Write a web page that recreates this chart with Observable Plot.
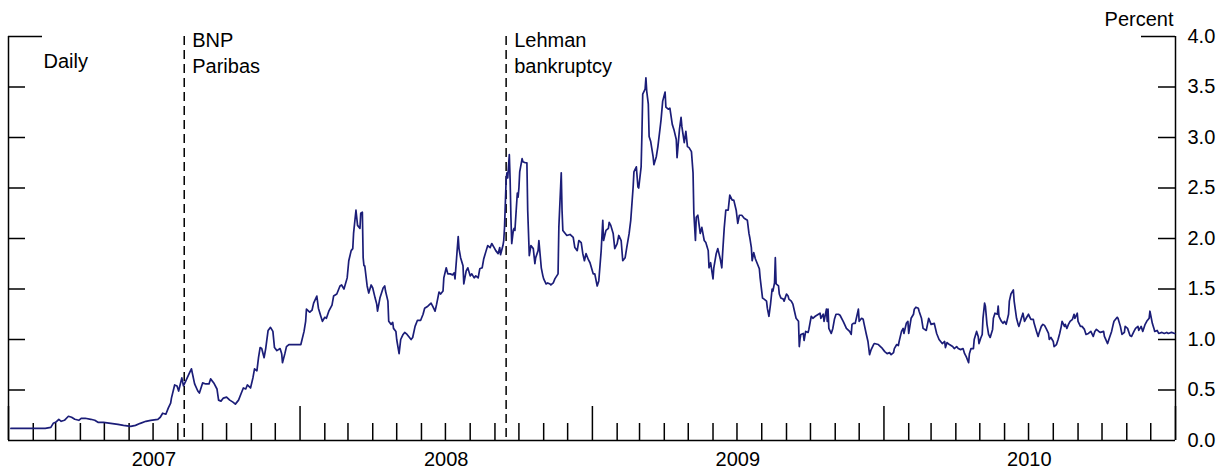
<!DOCTYPE html>
<html>
<head>
<meta charset="utf-8">
<script src="https://cdn.jsdelivr.net/npm/d3@7"></script>
<script src="https://cdn.jsdelivr.net/npm/@observablehq/plot@0.6"></script>
<style>
  body { margin: 0; background: #fff; }
</style>
</head>
<body>
<div id="chart"></div>
<script>
// Daily spread, percent. Each year's observations as [day of year, value].
const spread2007 = [
  [3,0.12],[15,0.12],[31,0.12],[46,0.12],[53,0.13],[56,0.17],[59,0.18],[63,0.21],[66,0.19],[70,0.20],
  [75,0.24],[79,0.23],[83,0.21],[88,0.20],[91,0.22],[96,0.22],[103,0.21],[108,0.20],[112,0.18],[119,0.18],
  [128,0.17],[137,0.16],[144,0.15],[153,0.14],[159,0.15],[165,0.17],[172,0.19],[178,0.20],[187,0.21],[190,0.23],
  [193,0.27],[197,0.26],[200,0.32],[203,0.37],[204,0.42],[208,0.55],[211,0.54],[213,0.49],[217,0.62],[219,0.54],
  [222,0.59],[226,0.66],[229,0.71],[233,0.56],[237,0.49],[239,0.47],[243,0.57],[247,0.56],[251,0.56],[253,0.61],
  [257,0.57],[261,0.51],[263,0.40],[266,0.39],[269,0.42],[273,0.43],[277,0.40],[281,0.38],[284,0.36],[288,0.40],
  [291,0.46],[294,0.52],[297,0.51],[299,0.55],[303,0.52],[306,0.62],[308,0.71],[311,0.69],[313,0.82],[315,0.92],
  [317,0.91],[320,0.82],[322,0.91],[325,1.09],[328,1.12],[331,1.08],[333,0.92],[336,0.89],[340,0.91],[342,0.86],
  [343,0.77],[346,0.86],[348,0.93],[351,0.95],[356,0.95],[361,0.95]
];
const spread2008 = [
  [1,0.95],[5,1.08],[7,1.18],[8,1.30],[12,1.27],[15,1.29],[17,1.36],[21,1.43],[23,1.31],[26,1.23],
  [28,1.18],[31,1.22],[33,1.21],[36,1.28],[40,1.34],[42,1.43],[46,1.45],[50,1.53],[52,1.54],[55,1.50],
  [59,1.61],[61,1.78],[64,1.88],[66,1.90],[67,2.05],[70,2.28],[72,2.13],[75,2.10],[76,2.25],[78,2.26],
  [79,1.81],[80,1.73],[81,1.73],[84,1.53],[86,1.46],[89,1.54],[91,1.51],[94,1.41],[96,1.35],[97,1.28],
  [100,1.41],[104,1.51],[106,1.53],[107,1.48],[110,1.38],[111,1.18],[114,1.15],[116,1.17],[117,1.11],[120,1.08],
  [121,1.00],[124,0.86],[126,1.00],[129,1.05],[131,1.07],[134,1.05],[136,1.03],[139,1.00],[141,1.02],[144,1.13],
  [147,1.19],[151,1.19],[154,1.25],[156,1.31],[160,1.33],[164,1.36],[166,1.33],[169,1.28],[171,1.35],[174,1.47],
  [176,1.45],[179,1.48],[180,1.61],[183,1.71],[185,1.65],[188,1.65],[191,1.64],[193,1.66],[194,1.60],[196,1.81],
  [198,2.02],[199,1.90],[201,1.81],[204,1.73],[205,1.55],[208,1.68],[210,1.71],[213,1.63],[215,1.65],[218,1.61],
  [220,1.63],[223,1.61],[225,1.70],[228,1.71],[230,1.80],[233,1.88],[235,1.93],[238,1.91],[240,1.95],[243,1.91],
  [245,1.88],[248,1.85],[250,1.91],[251,1.84],[254,1.93],[255,1.98],[256,2.11],[258,2.58],[259,2.65],[260,2.60],
  [262,2.83],[263,2.58],[264,2.21],[265,1.95],[267,2.08],[268,2.10],[269,2.08],[272,2.45],[273,2.41],[274,2.50],
  [275,2.66],[278,2.79],[279,2.76],[282,2.75],[284,2.75],[285,2.28],[287,1.83],[289,1.93],[292,1.90],[294,1.75],
  [295,1.81],[298,1.88],[299,1.98],[302,1.71],[304,1.63],[305,1.60],[308,1.55],[310,1.56],[313,1.55],[314,1.54],
  [317,1.56],[319,1.60],[323,1.65],[324,2.11],[327,2.65],[328,2.28],[329,2.08],[332,2.05],[334,2.03],[338,2.04],
  [342,2.01],[344,1.91],[347,1.88],[349,1.98],[352,1.96],[354,1.85],[356,1.78],[358,1.85],[361,1.79],[363,1.76]
];
const spread2009 = [
  [1,1.65],[3,1.65],[6,1.53],[8,1.58],[11,1.88],[13,2.18],[14,1.98],[17,2.08],[20,2.10],[21,2.16],
  [23,2.13],[26,2.05],[28,1.90],[31,1.95],[33,2.03],[36,1.98],[38,1.78],[41,1.81],[43,1.91],[46,2.05],
  [48,2.18],[51,2.51],[52,2.66],[55,2.71],[57,2.51],[58,2.50],[61,2.71],[62,3.03],[63,3.43],[66,3.48],
  [67,3.59],[68,3.46],[70,3.33],[71,3.01],[73,2.96],[76,2.81],[77,2.73],[80,2.81],[82,2.91],[85,3.11],
  [86,3.18],[88,3.36],[91,3.45],[92,3.30],[95,3.28],[97,3.29],[100,3.13],[102,3.08],[105,2.98],[106,2.80],
  [109,3.08],[111,3.20],[112,3.11],[115,2.95],[117,3.06],[119,2.91],[121,2.90],[124,2.86],[126,2.65],[127,2.25],
  [129,1.98],[130,2.21],[132,2.23],[135,2.05],[137,2.11],[140,1.98],[142,1.96],[145,1.88],[146,1.71],[148,1.76],
  [151,1.60],[152,1.71],[155,1.85],[157,1.90],[160,1.80],[162,1.71],[163,1.85],[165,2.10],[167,2.28],[170,2.28],
  [172,2.43],[175,2.38],[177,2.38],[180,2.28],[182,2.15],[184,2.23],[187,2.23],[190,2.20],[194,2.18],[196,2.05],
  [197,2.01],[199,1.91],[200,1.78],[202,1.86],[204,1.80],[206,1.76],[209,1.70],[210,1.61],[213,1.41],[215,1.40],
  [218,1.38],[219,1.31],[221,1.23],[223,1.35],[225,1.50],[226,1.48],[228,1.56],[229,1.81],[230,1.55],[233,1.53],
  [234,1.45],[236,1.41],[239,1.40],[240,1.38],[243,1.45],[245,1.43],[246,1.40],[249,1.38],[251,1.35],[253,1.28],
  [255,1.21],[258,1.18],[259,0.93],[260,1.01],[261,1.05],[264,1.06],[265,0.99],[267,1.08],[270,1.07],[271,1.10],
  [274,1.23],[276,1.21],[279,1.23],[283,1.25],[285,1.26],[286,1.21],[289,1.25],[290,1.18],[293,1.30],[294,1.18],
  [295,1.30],[296,1.11],[299,1.06],[301,1.11],[303,1.20],[305,1.25],[308,1.25],[310,1.24],[314,1.18],[318,1.11],
  [322,1.08],[324,1.05],[325,1.15],[327,1.16],[329,1.16],[333,1.30],[334,1.18],[337,1.21],[339,1.20],[340,1.16],
  [343,1.05],[345,0.98],[347,0.85],[349,0.90],[352,0.95],[353,0.96],[358,0.95],[362,0.92]
];
const spread2010 = [
  [1,0.88],[4,0.86],[7,0.87],[9,0.85],[12,0.87],[13,0.91],[16,0.95],[18,0.94],[19,0.98],[22,1.08],
  [24,1.11],[25,1.06],[28,1.16],[30,1.18],[31,1.06],[34,1.21],[37,1.25],[38,1.30],[40,1.32],[43,1.31],
  [44,1.28],[47,1.21],[49,1.11],[53,1.09],[56,1.21],[59,1.15],[63,1.16],[66,1.06],[69,1.00],[73,0.96],
  [76,0.98],[77,0.92],[79,0.97],[82,0.95],[86,0.93],[88,0.91],[91,0.93],[93,0.91],[96,0.90],[99,0.91],
  [101,0.86],[103,0.83],[106,0.77],[107,0.86],[109,0.91],[112,0.91],[113,1.00],[116,1.08],[118,1.03],[119,0.96],
  [121,1.01],[123,1.05],[124,1.21],[126,1.36],[127,1.33],[129,1.15],[131,1.05],[133,1.02],[136,1.10],[137,1.21],
  [139,1.26],[142,1.25],[143,1.33],[144,1.23],[147,1.18],[149,1.16],[151,1.18],[153,1.15],[156,1.25],[157,1.38],
  [159,1.45],[162,1.49],[163,1.38],[166,1.21],[168,1.15],[169,1.13],[172,1.21],[174,1.26],[176,1.18],[178,1.21],
  [181,1.25],[182,1.23],[184,1.20],[187,1.20],[188,1.16],[191,1.08],[193,1.03],[194,1.06],[197,1.13],[199,1.15],
  [201,1.14],[203,1.11],[206,1.06],[207,1.00],[209,1.02],[212,0.98],[213,0.93],[216,0.95],[218,1.00],[220,1.06],
  [222,1.13],[223,1.18],[226,1.13],[227,1.15],[229,1.11],[231,1.15],[233,1.18],[236,1.20],[238,1.25],[239,1.21],
  [242,1.26],[243,1.18],[246,1.13],[248,1.13],[251,1.10],[253,1.05],[256,1.06],[259,1.08],[262,1.03],[264,1.08],
  [266,1.10],[269,1.08],[271,1.07],[275,1.08],[276,1.03],[280,0.96],[282,1.01],[285,1.08],[287,1.15],[288,1.18],
  [292,1.22],[293,1.21],[296,1.13],[298,1.05],[301,1.07],[302,1.13],[305,1.11],[308,1.04],[310,1.03],[313,1.08],
  [315,1.11],[318,1.13],[319,1.09],[322,1.13],[324,1.08],[327,1.15],[329,1.18],[332,1.21],[333,1.28],[336,1.16],
  [338,1.11],[339,1.08],[342,1.09],[344,1.06],[348,1.07],[351,1.06],[354,1.07],[356,1.06],[360,1.07],[364,1.06]
];

const years = [2007, 2008, 2009, 2010];
const yTicks = [0, 0.5, 1, 1.5, 2, 2.5, 3, 3.5, 4];
const eventDates = ["2007-08-09", "2008-09-15"];
const eventLabels = ["BNP\nParibas", "Lehman\nbankruptcy"];
const unitLabel = "Percent";
const frequencyLabel = "Daily";

// Assemble the daily table from the per-year lists
const byYear = [spread2007, spread2008, spread2009, spread2010];
const series = years.flatMap((yr, i) =>
  byYear[i].map(([doy, v]) => ({date: d3.utcDay.offset(new Date(Date.UTC(yr, 0, 1)), doy), value: v}))
);
const events = eventDates.map((d, i) => ({date: new Date(d + "T00:00Z"), label: eventLabels[i]}));

const start = new Date(Date.UTC(years[0], 0, 1));
const end = new Date(Date.UTC(years[years.length - 1] + 1, 0, 1));
const monthTicks = d3.utcMonth.range(start, end).filter(d => d.getUTCMonth() !== 0);
const yearTicks = d3.utcYear.range(start, d3.utcDay.offset(end, 1));
const yearMids = years.map(y => ({date: new Date(Date.UTC(y, 6, 2)), label: String(y)}));

const width = 1228, height = 472;
const marginLeft = 8, marginRight = 53, marginTop = 36, marginBottom = 32;
const frameW = width - marginLeft - marginRight;
const frameH = height - marginTop - marginBottom;
const shortTick = 17, longTick = 34;
const ink = "#000";
const sw = 1.5;
const innerTicks = yTicks.filter(t => t > 0 && t < 4);

const chart = Plot.plot({
  width, height, marginLeft, marginRight, marginTop, marginBottom,
  style: {fontFamily: "'Liberation Sans', Arial, Helvetica, sans-serif", fontSize: "20px", color: "#000", background: "#fff"},
  x: {type: "utc", domain: [start, end], axis: null},
  y: {domain: [0, 4], axis: null},
  marks: [
    // frame: left, right, bottom
    Plot.ruleX([start, end], {stroke: ink, strokeWidth: sw}),
    Plot.ruleY([0], {stroke: ink, strokeWidth: sw}),
    // month and year ticks rising from the bottom
    Plot.ruleX(monthTicks, {x: d => d, insetTop: frameH - shortTick, stroke: ink, strokeWidth: sw}),
    Plot.ruleX(yearTicks, {x: d => d, insetTop: frameH - longTick, stroke: ink, strokeWidth: sw}),
    // inward y ticks on both sides; the top one is longer
    Plot.ruleY(innerTicks, {y: d => d, insetRight: frameW - shortTick, stroke: ink, strokeWidth: sw}),
    Plot.ruleY(innerTicks, {y: d => d, insetLeft: frameW - shortTick, stroke: ink, strokeWidth: sw}),
    Plot.ruleY([4], {y: d => d, insetRight: frameW - longTick, stroke: ink, strokeWidth: sw}),
    Plot.ruleY([4], {y: d => d, insetLeft: frameW - longTick, stroke: ink, strokeWidth: sw}),
    // event markers
    Plot.ruleX(events, {x: "date", y1: 0, y2: 4, insetTop: -3, stroke: ink, strokeWidth: sw, strokeDasharray: "9,5"}),
    Plot.text(events, {x: "date", text: "label", frameAnchor: "top", textAnchor: "start", lineAnchor: "top",
      dx: 8, dy: -8, lineHeight: 1.3, fill: ink}),
    // the series
    Plot.line(series, {x: "date", y: "value", stroke: "#1b1d78", strokeWidth: 1.7, curve: "linear"}),
    // right-hand value labels
    Plot.axisY(yTicks, {anchor: "right", tickSize: 0, tickPadding: 12, tickFormat: d3.format(".1f"), label: null, fill: ink}),
    // year labels centred under each year
    Plot.text(yearMids, {x: "date", text: "label", frameAnchor: "bottom", dy: 19, lineAnchor: "middle", fill: ink}),
    Plot.text([unitLabel], {frameAnchor: "top-right", textAnchor: "end", dx: -2, dy: -17, lineAnchor: "middle", fill: ink}),
    Plot.text([frequencyLabel], {frameAnchor: "top-left", textAnchor: "start", dx: 35, dy: 25, lineAnchor: "middle", fill: ink})
  ]
});

document.getElementById("chart").appendChild(chart);
</script>
</body>
</html>
